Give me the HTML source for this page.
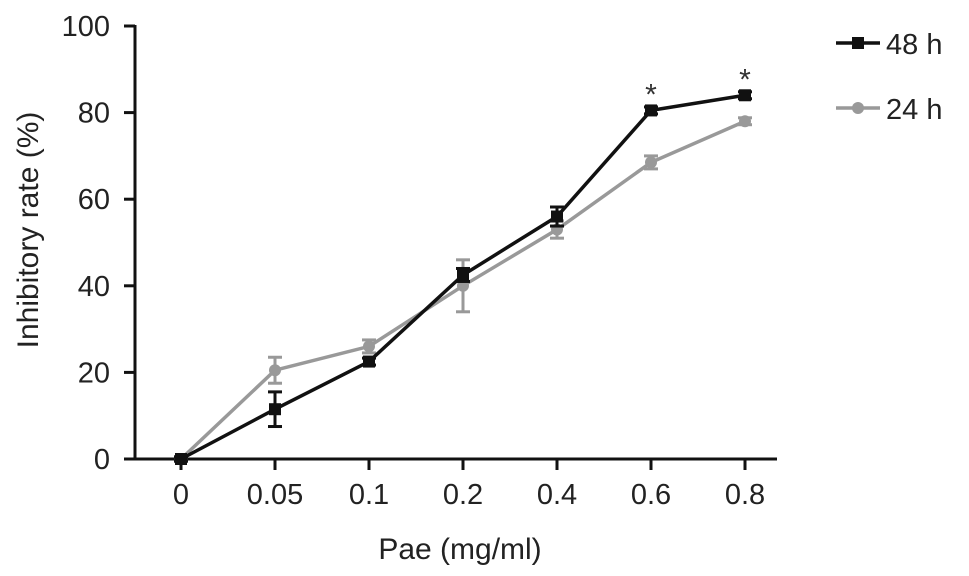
<!DOCTYPE html>
<html><head><meta charset="utf-8"><style>
body{margin:0;background:#fff}
svg{display:block;font-family:"Liberation Sans",Arial,sans-serif}
</style></head><body>
<svg id="chart" width="969" height="576" viewBox="0 0 969 576"></svg>
<script>
const categories = ["0","0.05","0.1","0.2","0.4","0.6","0.8"];
const yTicks = [0,20,40,60,80,100];
const values48 = [0,11.5,22.5,42.5,56,80.5,84];
const err48 = [0.5,4,0.8,1.5,2.2,0.8,0.8];
const values24 = [0,20.5,26,40,53,68.5,78];
const err24 = [0.5,3,1.5,6,2,1.5,0.8];
const sig = ["","","","","","*","*"];

const svg = document.getElementById('chart');
const NS = 'http://www.w3.org/2000/svg';
const x0 = 181, dx = 94;
function xs(i){ return x0 + i*dx; }
function ys(v){ return 459 - v*4.33; }
function mk(tag, attrs, parent){
  const e = document.createElementNS(NS, tag);
  for (const k in attrs) e.setAttribute(k, attrs[k]);
  (parent||svg).appendChild(e); return e;
}
const axes = mk('g', {});


mk('line',{x1:135,y1:ys(100)-1,x2:135,y2:460,stroke:'#111','stroke-width':3},axes);
mk('line',{x1:134,y1:459,x2:777,y2:459,stroke:'#111','stroke-width':3},axes);
yTicks.forEach(t=>{
  mk('line',{x1:124,y1:ys(t),x2:135,y2:ys(t),stroke:'#111','stroke-width':3},axes);
  const tx = mk('text',{x:110,y:ys(t)+10,'text-anchor':'end','font-size':29,fill:'#222'},axes);
  tx.textContent = t;
  
  
});
categories.forEach((c,i)=>{
  mk('line',{x1:xs(i),y1:459,x2:xs(i),y2:470,stroke:'#111','stroke-width':3},axes);
  const tx = mk('text',{x:xs(i),y:504,'text-anchor':'middle','font-size':29,fill:'#222'},axes);
  tx.textContent = c;
  
  
});
const yt = mk('text',{x:0,y:0,transform:'translate(38,230) rotate(-90)','text-anchor':'middle','font-size':30,fill:'#222'});
yt.textContent = 'Inhibitory rate (%)';


const xt = mk('text',{x:460,y:559,'text-anchor':'middle','font-size':30,fill:'#222'});
xt.textContent = 'Pae (mg/ml)';



function series(vals, errs, color, square, name){
  const g = mk('g',{});
  
  
  mk('polyline',{points:vals.map((v,i)=>xs(i)+','+ys(v)).join(' '),fill:'none',stroke:color,'stroke-width':3.5},g);
  vals.forEach((v,i)=>{
    const t = ys(v+errs[i]), b = ys(v-errs[i]);
    mk('line',{x1:xs(i),y1:t,x2:xs(i),y2:b,stroke:color,'stroke-width':3},g);
    mk('line',{x1:xs(i)-7,y1:t,x2:xs(i)+7,y2:t,stroke:color,'stroke-width':3},g);
    mk('line',{x1:xs(i)-7,y1:b,x2:xs(i)+7,y2:b,stroke:color,'stroke-width':3},g);
    let m;
    if (square) m = mk('rect',{x:xs(i)-6,y:ys(v)-6,width:12,height:12,fill:color},g);
    else m = mk('circle',{cx:xs(i),cy:ys(v),r:6,fill:color},g);
    
    
  });
}
series(values24, err24, '#999', false, 'series-24h');
series(values48, err48, '#111', true, 'series-48h');
sig.forEach((s,i)=>{
  if(!s) return;
  const t = mk('text',{x:xs(i),y:ys(values48[i])-6,'text-anchor':'middle','font-size':30,fill:'#333'});
  t.textContent = s;
  
  
});
const lg = mk('g',{});


mk('line',{x1:836,y1:43,x2:880,y2:43,stroke:'#111','stroke-width':3.5},lg);
mk('rect',{x:852,y:37,width:12,height:12,fill:'#111'},lg);
const l1 = mk('text',{x:886,y:54,'font-size':29,fill:'#222'},lg); l1.textContent='48 h';
mk('line',{x1:836,y1:108,x2:880,y2:108,stroke:'#999','stroke-width':3.5},lg);
mk('circle',{cx:858,cy:108,r:6,fill:'#999'},lg);
const l2 = mk('text',{x:886,y:119,'font-size':29,fill:'#222'},lg); l2.textContent='24 h';
</script>
</body></html>
